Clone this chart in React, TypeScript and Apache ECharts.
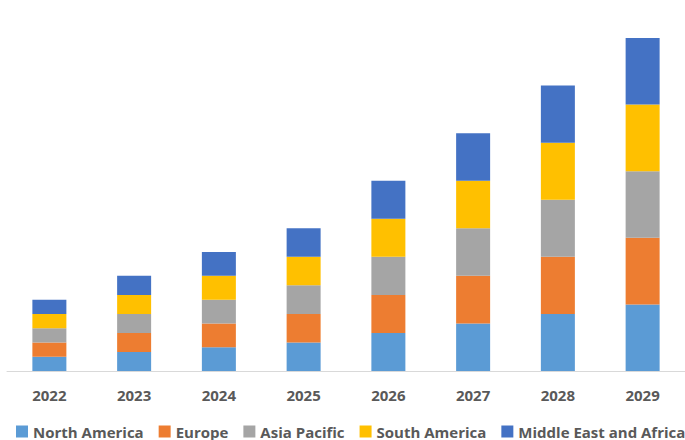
import React, { useEffect, useRef } from "react";
import * as echarts from "echarts";

const years = ["2022", "2023", "2024", "2025", "2026", "2027", "2028", "2029"];
const northAmerica = [1.5, 2.0, 2.5, 3.0, 4.0, 5.0, 6.0, 7.0];
const europe = [1.5, 2.0, 2.5, 3.0, 4.0, 5.0, 6.0, 7.0];
const asiaPacific = [1.5, 2.0, 2.5, 3.0, 4.0, 5.0, 6.0, 7.0];
const southAmerica = [1.5, 2.0, 2.5, 3.0, 4.0, 5.0, 6.0, 7.0];
const middleEastAfrica = [1.5, 2.0, 2.5, 3.0, 4.0, 5.0, 6.0, 7.0];

const seriesNames = ["North America", "Europe", "Asia Pacific", "South America", "Middle East and Africa"];
const seriesColors = ["#5B9BD5", "#ED7D31", "#A5A5A5", "#FFC000", "#4472C4"];

export default function App() {
  const ref = useRef<HTMLDivElement>(null);
  useEffect(() => {
    document.body.style.margin = "0";
    const chart = echarts.init(ref.current!, null, { renderer: "svg" });
    const data = [northAmerica, europe, asiaPacific, southAmerica, middleEastAfrica];
    chart.setOption({
      animation: false,
      backgroundColor: "#ffffff",
      legend: {
        bottom: 1,
        left: 16,
        width: 680,
        padding: 0,
        itemWidth: 12,
        itemHeight: 12,
        itemGap: 15,
        icon: "rect",
        textStyle: {
          fontFamily: "'Open Sans', sans-serif",
          fontWeight: "bold",
          fontSize: 15,
          color: "#595959",
          padding: [0, 0, 0, 0],
        },
        data: seriesNames,
      },
      grid: { left: 7, right: -2, top: 38, bottom: 69, containLabel: false },
      xAxis: {
        type: "category",
        data: years,
        axisLine: { lineStyle: { color: "#D9D9D9", width: 1 } },
        axisTick: { show: false },
        axisLabel: {
          fontFamily: "'Open Sans', sans-serif",
          fontWeight: "bold",
          fontSize: 15,
          color: "#595959",
          margin: 16,
        },
      },
      yAxis: {
        type: "value",
        min: 0,
        max: 35,
        show: false,
        splitLine: { show: false },
      },
      series: seriesNames.map((name, i) => ({
        name,
        type: "bar",
        stack: "total",
        barWidth: 34,
        data: data[i],
        itemStyle: { color: seriesColors[i] },
      })),
    });
    return () => chart.dispose();
  }, []);
  return <div ref={ref} style={{ position: "absolute", left: 0, top: 0, width: 685, height: 440 }} />;
}
